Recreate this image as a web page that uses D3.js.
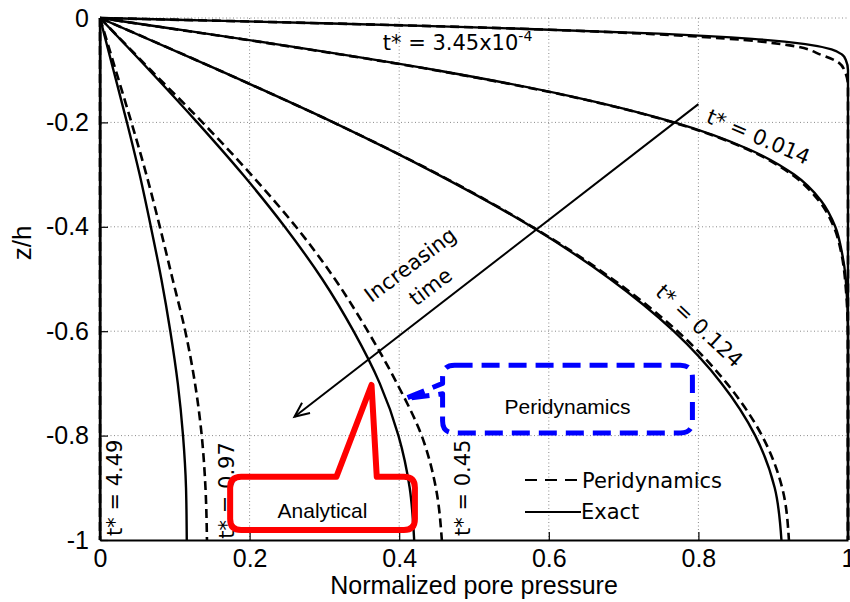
<!DOCTYPE html>
<html>
<head>
<meta charset="utf-8">
<script src="https://cdn.jsdelivr.net/npm/d3@7"></script>
<style>
  body { margin: 0; background: #fff; }
  svg { display: block; }
</style>
</head>
<body>
<svg id="chart" width="850" height="602"></svg>
<script>
// ---- axis ticks ----
const xTicks = [0, 0.2, 0.4, 0.6, 0.8, 1];
const xTickLabels = ["0", "0.2", "0.4", "0.6", "0.8", "1"];
const yTicks = [0, -0.2, -0.4, -0.6, -0.8, -1];
const yTickLabels = ["0", "-0.2", "-0.4", "-0.6", "-0.8", "-1"];

// ---- depth (z/h) grids ----
const depthGrid = [0, -0.1, -0.2, -0.3, -0.4, -0.5, -0.6, -0.7, -0.8, -0.9, -1];
const depthT345 = [0, -0.002, -0.005, -0.01, -0.015, -0.02, -0.03, -0.04, -0.05, -0.06, -0.07, -0.08, -0.1, -1];
const depthT345Peri = [0, -0.002, -0.005, -0.01, -0.015, -0.02, -0.031, -0.042, -0.052, -0.071, -0.086, -0.103, -0.13, -1];
const depthT014 = [0, -0.02, -0.05, -0.1, -0.15, -0.2, -0.25, -0.3, -0.35, -0.4, -0.45, -0.5, -0.6, -1];
const depthT014Peri = [0, -0.02, -0.05, -0.1, -0.15, -0.2, -0.25, -0.3, -0.35, -0.4, -0.45, -0.5, -0.62, -1];

// ---- normalized pore pressure, exact solution ----
const exactT345 = [0, 0.06, 0.151, 0.297, 0.432, 0.553, 0.747, 0.872, 0.943, 0.978, 0.992, 0.997, 1, 1];
const exactT014 = [0, 0.095, 0.235, 0.45, 0.63, 0.768, 0.865, 0.928, 0.964, 0.983, 0.992, 0.997, 1, 1];
const exactT124 = [0, 0.159, 0.312, 0.452, 0.577, 0.682, 0.767, 0.831, 0.876, 0.902, 0.911];
const exactT45  = [0, 0.066, 0.130, 0.191, 0.247, 0.297, 0.339, 0.374, 0.399, 0.414, 0.420];
const exactT97  = [0, 0.018, 0.036, 0.053, 0.068, 0.082, 0.094, 0.104, 0.111, 0.115, 0.116];
const exactT449 = [0, 0, 0, 0, 0, 0, 0, 0, 0, 0, 0];

// ---- normalized pore pressure, peridynamics ----
const periT345 = [0, 0.06, 0.15, 0.295, 0.43, 0.55, 0.74, 0.86, 0.92, 0.965, 0.988, 0.996, 1, 1];
const periT014 = [0, 0.094, 0.233, 0.448, 0.628, 0.766, 0.863, 0.925, 0.961, 0.981, 0.991, 0.996, 1, 1];
const periT124 = [0, 0.159, 0.312, 0.453, 0.578, 0.685, 0.772, 0.838, 0.885, 0.912, 0.921];
const periT45  = [0, 0.068, 0.137, 0.202, 0.262, 0.314, 0.358, 0.397, 0.430, 0.449, 0.457];
const periT97  = [0, 0.021, 0.042, 0.062, 0.080, 0.097, 0.114, 0.127, 0.136, 0.141, 0.143];
const periT449 = [0, 0, 0, 0, 0, 0, 0, 0, 0, 0, 0];

const series = [
  { z: depthT345, u: exactT345, kind: "exact" },
  { z: depthT014, u: exactT014, kind: "exact" },
  { z: depthGrid, u: exactT124, kind: "exact" },
  { z: depthGrid, u: exactT45,  kind: "exact" },
  { z: depthGrid, u: exactT97,  kind: "exact" },
  { z: depthGrid, u: exactT449, kind: "exact" },
  { z: depthT345Peri, u: periT345, kind: "peri" },
  { z: depthT014Peri, u: periT014, kind: "peri" },
  { z: depthGrid, u: periT124, kind: "peri" },
  { z: depthGrid, u: periT45,  kind: "peri" },
  { z: depthGrid, u: periT97,  kind: "peri" },
  { z: depthGrid, u: periT449, kind: "peri" }
];

const svg = d3.select("#chart");
const x = d3.scaleLinear().domain([0, 1]).range([100, 848]);
const y = d3.scaleLinear().domain([-1, 0]).range([540, 18]);

const tickFont = "'Liberation Sans', Arial, sans-serif";
const noteFont = "'DejaVu Sans', Verdana, sans-serif";

// dotted grid
const grid = svg.append("g").attr("stroke", "#8a8a8a").attr("stroke-width", 1)
  .attr("stroke-dasharray", "1,2.5");
grid.selectAll(".gx").data(xTicks.filter(t => t > 0 && t < 1)).join("line")
  .attr("x1", d => x(d)).attr("x2", d => x(d)).attr("y1", y(0)).attr("y2", y(-1));
grid.selectAll(".gy").data(yTicks.filter(t => t > -1)).join("line")
  .attr("y1", d => y(d)).attr("y2", d => y(d)).attr("x1", x(0)).attr("x2", x(1));

// curves
const line = d3.line().x(d => x(d[0])).y(d => y(d[1])).curve(d3.curveMonotoneY);
svg.append("g").selectAll("path").data(series).join("path")
  .attr("d", s => line(s.u.map((v, i) => [v, s.z[i]])))
  .attr("fill", "none").attr("stroke", "#000")
  .attr("stroke-width", s => s.kind === "peri" ? 2.6 : 2.4)
  .attr("stroke-dasharray", s => s.kind === "peri" ? "9,5" : null);

// axes (ticks point inwards)
const xAxis = svg.append("g").attr("transform", `translate(0,${y(-1)})`)
  .call(d3.axisBottom(x).tickValues(xTicks).tickFormat((d, i) => xTickLabels[i])
    .tickSizeInner(-8).tickSizeOuter(0).tickPadding(9));
const yAxis = svg.append("g").attr("transform", `translate(${x(0)},0)`)
  .call(d3.axisLeft(y).tickValues(yTicks).tickFormat((d, i) => yTickLabels[i])
    .tickSizeInner(-8).tickSizeOuter(0).tickPadding(11));
[xAxis, yAxis].forEach(g => {
  g.select(".domain").attr("stroke", "#000").attr("stroke-width", 2);
  g.selectAll(".tick line").attr("stroke", "#000").attr("stroke-width", 1.2);
  g.selectAll(".tick text").attr("font-family", tickFont).attr("font-size", 25).attr("fill", "#000");
});

svg.append("text").attr("x", (x(0) + x(1)) / 2).attr("y", 594).attr("text-anchor", "middle")
  .attr("font-family", tickFont).attr("font-size", 25).text("Normalized pore pressure");
svg.append("text").attr("transform", "translate(22,243) rotate(-90)")
  .attr("text-anchor", "middle").attr("dominant-baseline", "central")
  .attr("font-family", tickFont).attr("font-size", 26).text("z/h");

// time labels on the curves
const notes = svg.append("g").attr("font-family", noteFont).attr("font-size", 21).attr("fill", "#000");
const t345 = notes.append("text").attr("x", x(0.378)).attr("y", y(-0.061));
t345.append("tspan").text("t* = 3.45x10");
t345.append("tspan").attr("font-size", 14).attr("dy", -9).text("-4");

function rotLabel(u, z, angle, txt) {
  notes.append("text")
    .attr("transform", `translate(${x(u)},${y(z)}) rotate(${angle})`)
    .attr("text-anchor", "middle").attr("dominant-baseline", "central").text(txt);
}
rotLabel(0.88, -0.228, 23, "t* = 0.014");
rotLabel(0.801, -0.59, 43, "t* = 0.124");
rotLabel(0.02, -0.9, -90, "t* = 4.49");
rotLabel(0.17, -0.905, -90, "t* = 0.97");
rotLabel(0.485, -0.9, -90, "t* = 0.45");
rotLabel(0.415, -0.473, -37, "Increasing");
rotLabel(0.442, -0.515, -37, "time");

// "increasing time" arrow
const a0 = [x(0.80), y(-0.165)], a1 = [x(0.26), y(-0.764)];
svg.append("line").attr("x1", a0[0]).attr("y1", a0[1]).attr("x2", a1[0]).attr("y2", a1[1])
  .attr("stroke", "#000").attr("stroke-width", 2);
const ang = Math.atan2(a0[1] - a1[1], a0[0] - a1[0]);
const head = [ang - 0.42, ang + 0.42].map(a => [a1[0] + 16 * Math.cos(a), a1[1] + 16 * Math.sin(a)]);
svg.append("path")
  .attr("d", `M${head[0][0]},${head[0][1]}L${a1[0]},${a1[1]}L${head[1][0]},${head[1][1]}`)
  .attr("fill", "none").attr("stroke", "#000").attr("stroke-width", 2);

// callouts
function calloutLeft(x0, y0, x1, y1, r, tailTop, tailBot, tip) {
  return `M${x0 + r},${y0}H${x1 - r}Q${x1},${y0} ${x1},${y0 + r}V${y1 - r}Q${x1},${y1} ${x1 - r},${y1}` +
    `H${x0 + r}Q${x0},${y1} ${x0},${y1 - r}V${tailBot}L${tip[0]},${tip[1]}L${x0},${tailTop}` +
    `V${y0 + r}Q${x0},${y0} ${x0 + r},${y0}Z`;
}
function calloutTop(x0, y0, x1, y1, r, tailL, tailR, tip) {
  return `M${x0 + r},${y0}H${tailL}L${tip[0]},${tip[1]}L${tailR},${y0}H${x1 - r}Q${x1},${y0} ${x1},${y0 + r}` +
    `V${y1 - r}Q${x1},${y1} ${x1 - r},${y1}H${x0 + r}Q${x0},${y1} ${x0},${y1 - r}V${y0 + r}Q${x0},${y0} ${x0 + r},${y0}Z`;
}
svg.append("path")
  .attr("d", calloutLeft(x(0.458), y(-0.665), x(0.792), y(-0.795), 12, y(-0.70), y(-0.72), [x(0.408), y(-0.729)]))
  .attr("fill", "none").attr("stroke", "#0000ff").attr("stroke-width", 5)
  .attr("stroke-dasharray", "18,9").attr("stroke-linejoin", "round");
svg.append("text").attr("x", (x(0.458) + x(0.792)) / 2).attr("y", y(-0.759)).attr("text-anchor", "middle")
  .attr("font-family", tickFont).attr("font-size", 21).text("Peridynamics");

svg.append("path")
  .attr("d", calloutTop(x(0.174), y(-0.879), x(0.421), y(-0.981), 11, x(0.316), x(0.37), [x(0.363), y(-0.703)]))
  .attr("fill", "none").attr("stroke", "#ff0000").attr("stroke-width", 6).attr("stroke-linejoin", "round");
svg.append("text").attr("x", (x(0.174) + x(0.421)) / 2).attr("y", y(-0.958)).attr("text-anchor", "middle")
  .attr("font-family", tickFont).attr("font-size", 21).text("Analytical");

// legend
const leg = svg.append("g").attr("font-family", noteFont).attr("font-size", 21);
leg.append("line").attr("x1", 525).attr("x2", 584).attr("y1", 480).attr("y2", 480)
  .attr("stroke", "#000").attr("stroke-width", 2.2).attr("stroke-dasharray", "12,8");
leg.append("text").attr("x", 582).attr("y", 488).text("Peridynamics");
leg.append("line").attr("x1", 525).attr("x2", 581).attr("y1", 512).attr("y2", 512)
  .attr("stroke", "#000").attr("stroke-width", 2.2);
leg.append("text").attr("x", 581).attr("y", 519).text("Exact");
</script>
</body>
</html>
